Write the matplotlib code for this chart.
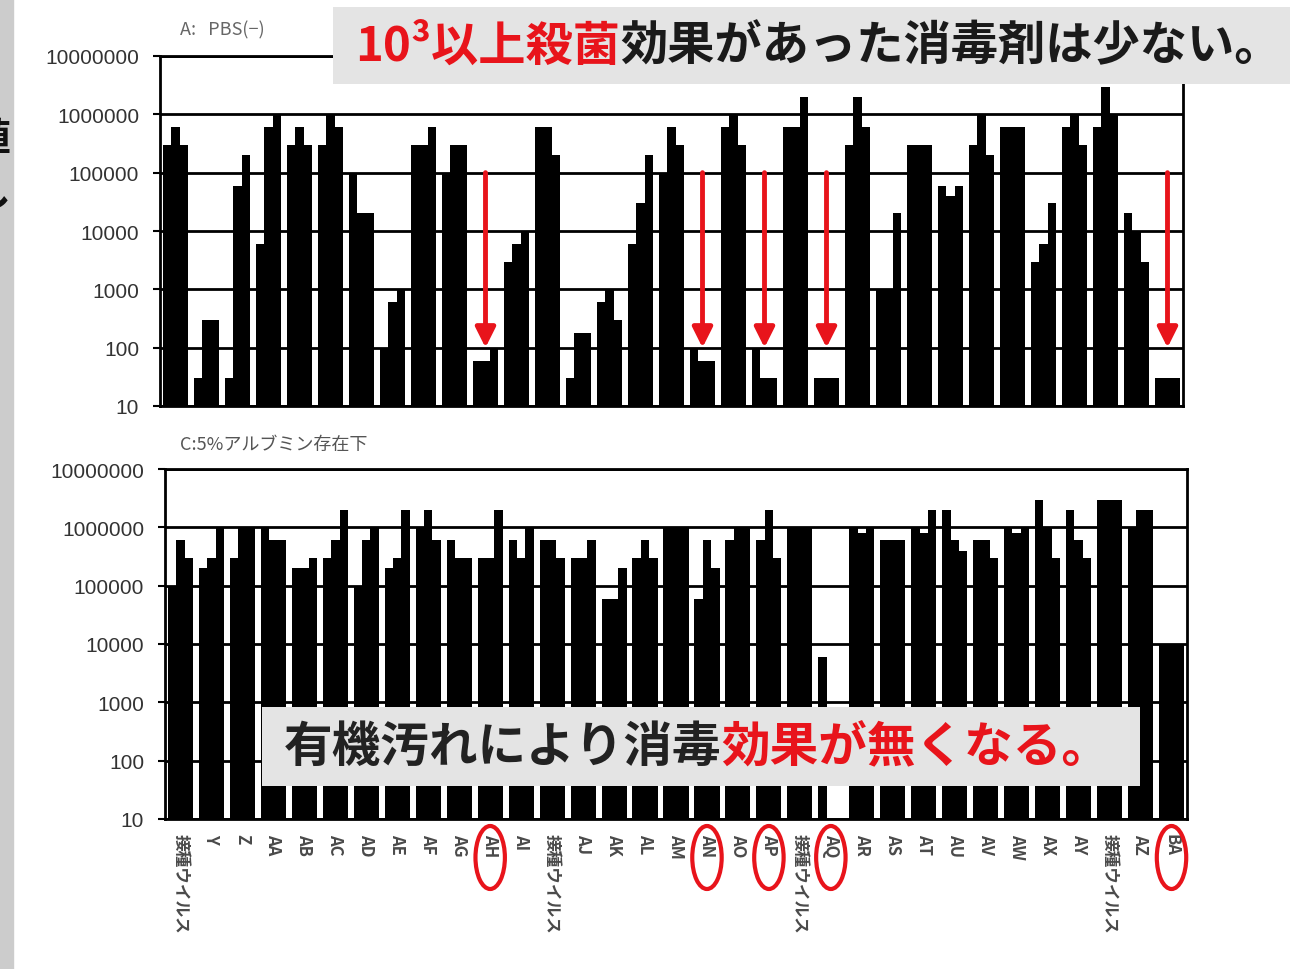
import numpy as np
import matplotlib
matplotlib.use('Agg')
import matplotlib.pyplot as plt
from matplotlib.patches import Rectangle, Ellipse
from matplotlib import transforms
from matplotlib.ticker import FixedLocator, NullLocator

plt.rcParams['font.family'] = ['Noto Sans CJK JP', 'DejaVu Sans']

W, H = 1297, 970

labels = ['接種ウイルス', 'Y', 'Z', 'AA', 'AB', 'AC', 'AD', 'AE', 'AF', 'AG', 'AH', 'AI',
          '接種ウイルス', 'AJ', 'AK', 'AL', 'AM', 'AN', 'AO', 'AP',
          '接種ウイルス', 'AQ', 'AR', 'AS', 'AT', 'AU', 'AV', 'AW', 'AX', 'AY',
          '接種ウイルス', 'AZ', 'BA']

# A: PBS(-)  3本ずつ
pbs = [[3e5, 6e5, 3e5], [30, 300, 300], [30, 6e4, 2e5], [6e3, 6e5, 1e6], [3e5, 6e5, 3e5],
       [3e5, 1e6, 6e5], [1e5, 2e4, 2e4], [100, 600, 1000], [3e5, 3e5, 6e5], [1e5, 3e5, 3e5],
       [60, 60, 100], [3e3, 6e3, 1e4], [6e5, 6e5, 2e5], [30, 180, 180], [600, 1000, 300],
       [6e3, 3e4, 2e5], [1e5, 6e5, 3e5], [100, 60, 60], [6e5, 1e6, 3e5], [100, 30, 30],
       [6e5, 6e5, 2e6], [30, 30, 30], [3e5, 2e6, 6e5], [1e3, 1e3, 2e4], [3e5, 3e5, 3e5],
       [6e4, 4e4, 6e4], [3e5, 1e6, 2e5], [6e5, 6e5, 6e5], [3e3, 6e3, 3e4], [6e5, 1e6, 3e5],
       [6e5, 3e6, 1e6], [2e4, 1e4, 3e3], [30, 30, 30]]

# C: 5%アルブミン存在下
alb = [[1e5, 6e5, 3e5], [2e5, 3e5, 1e6], [3e5, 1e6, 1e6], [1e6, 6e5, 6e5], [2e5, 2e5, 3e5],
       [3e5, 6e5, 2e6], [1e5, 6e5, 1e6], [2e5, 3e5, 2e6], [1e6, 2e6, 6e5], [6e5, 3e5, 3e5],
       [3e5, 3e5, 2e6], [6e5, 3e5, 1e6], [6e5, 6e5, 3e5], [3e5, 3e5, 6e5], [6e4, 6e4, 2e5],
       [3e5, 6e5, 3e5], [1e6, 1e6, 1e6], [6e4, 6e5, 2e5], [6e5, 1e6, 1e6], [6e5, 2e6, 3e5],
       [1e6, 1e6, 1e6], [6e3, 10, 10], [1e6, 8e5, 1e6], [6e5, 6e5, 6e5], [1e6, 8e5, 2e6],
       [2e6, 6e5, 4e5], [6e5, 6e5, 3e5], [1e6, 8e5, 1e6], [3e6, 1e6, 3e5], [2e6, 6e5, 3e5],
       [3e6, 3e6, 3e6], [1e6, 2e6, 2e6], [1e4, 1e4, 1e4]]

marked = ['AH', 'AN', 'AP', 'AQ', 'BA']

yticks = [10, 100, 1000, 10000, 100000, 1000000, 10000000]
ytick_labels = ['10', '100', '1000', '10000', '100000', '1000000', '10000000']

RED = '#e8141b'

fig = plt.figure(figsize=(W / 100, H / 100), dpi=100)

ax1 = fig.add_axes([160 / W, 1 - 407 / H, (1183 - 160) / W, 350 / H])
ax2 = fig.add_axes([165 / W, 1 - 820 / H, (1187 - 165) / W, 350 / H])

x = np.arange(len(labels))
bw = 0.27
for ax, data in [(ax1, pbs), (ax2, alb)]:
    vals = np.array(data)
    ax.set_yscale('log')
    for j in range(3):
        ax.bar(x + (j - 1) * bw, vals[:, j], width=bw, color='black', linewidth=0)
    ax.set_ylim(10, 1e7)
    ax.set_xlim(-0.5, len(labels) - 0.5)
    ax.yaxis.set_major_locator(FixedLocator(yticks))
    ax.yaxis.set_minor_locator(NullLocator())
    ax.set_yticklabels(ytick_labels, fontfamily='Liberation Sans', fontsize=15, color='#333333')
    ax.yaxis.grid(True, color='black', lw=2)
    ax.set_axisbelow(True)
    ax.tick_params(axis='y', length=5, width=1.5, pad=10)
    for s in ax.spines.values():
        s.set_linewidth(2)

ax1.set_xticks([])
ax2.set_xticks(x)
ax2.set_xticklabels(labels, rotation=270, fontsize=12, fontweight='bold', color='#4a4a4a',
                    va='top', ha='center')
ax2.tick_params(axis='x', length=0, pad=10)

# 赤い矢印 (上段)
for name in marked:
    i = labels.index(name)
    ax1.annotate('', xy=(i, 100), xytext=(i, 1e5),
                 arrowprops=dict(arrowstyle='-|>', color=RED, lw=3.5,
                                 mutation_scale=30, shrinkA=0, shrinkB=0), zorder=4)

# 赤い丸 (下段ラベル)
blend = transforms.blended_transform_factory(ax2.transData, ax2.transAxes)
for name in marked:
    i = labels.index(name)
    ax2.add_patch(Ellipse((i, -0.11), 0.95, 0.18, transform=blend, fill=False,
                          edgecolor=RED, lw=3, clip_on=False))

# パネル名
fig.text(180 / W, 1 - 30 / H, 'A:   PBS(−)', color='#666666', fontsize=13, va='center')
fig.text(180 / W, 1 - 445 / H, 'C:5%アルブミン存在下', color='#555555', fontsize=13, va='center')

# 左端の灰色帯と切れた文字
fig.add_artist(Rectangle((0, 0), 13 / W, 1, transform=fig.transFigure,
                         color='#cccccc', zorder=1))
fig.text(11 / W, 1 - 140 / H, '値', fontsize=28, fontweight='bold', ha='right', va='center',
         color='#111111', zorder=2)
fig.text(11 / W, 1 - 195 / H, 'し', fontsize=28, fontweight='bold', ha='right', va='center',
         color='#111111', zorder=2)


def text_box(x0, y0, x1, y1, segs, size):
    fig.add_artist(Rectangle((x0 / W, 1 - y1 / H), (x1 - x0) / W, (y1 - y0) / H,
                             transform=fig.transFigure, facecolor='#e4e4e4',
                             edgecolor='none', zorder=5))
    renderer = fig.canvas.get_renderer()
    xp = (x0 + 22) / W
    yc = 1 - (y0 + y1) / 2 / H
    for s, c, wt in segs:
        t = fig.text(xp, yc, s, color=c, fontsize=size, fontweight=wt,
                     ha='left', va='center', zorder=6)
        bb = t.get_window_extent(renderer)
        xp = fig.transFigure.inverted().transform((bb.x1, bb.y0))[0]


text_box(333, 8, 1290, 85, [('10³以上殺菌', RED, 'bold'),
                            ('効果があった消毒剤は少ない。', '#1a1a1a', 'bold')], 34)
text_box(262, 708, 1140, 787, [('有機汚れにより消毒', '#222222', 'bold'),
                               ('効果が無くなる。', RED, 'bold')], 35)

fig.savefig('out.png', dpi=100)
